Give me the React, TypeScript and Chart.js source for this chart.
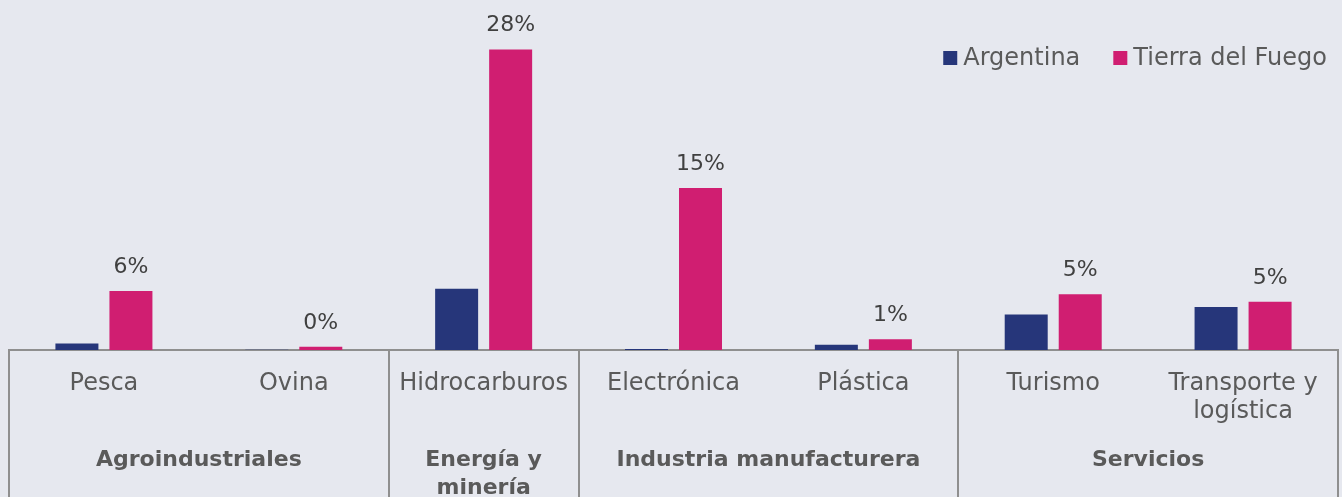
import { useEffect, useRef } from "react";
import { Chart, registerables } from "chart.js";

Chart.register(...registerables);

const categories: (string | string[])[] = [
  "Pesca",
  "Ovina",
  "Hidrocarburos",
  "Electrónica",
  "Plástica",
  "Turismo",
  ["Transporte y", "logística"],
];
const argentina = [0.6, 0.02, 5.7, 0.1, 0.5, 3.3, 4.0];
const tierraDelFuego = [5.5, 0.3, 28.0, 15.1, 1.0, 5.2, 4.5];
const groupLabels = [["Agroindustriales"], ["Energía y", "minería"], ["Industria manufacturera"], ["Servicios"]];
const groupSizes = [2, 1, 2, 2];
const seriesNames = ["Argentina", "Tierra del Fuego"];
const seriesColors = ["#26367a", "#d01e71"];

const FONT = "'DejaVu Sans', sans-serif";
const TEXT = "#5a5a5a";
const LINE = "#8f8f8f";

const framePlugin = {
  id: "frame",
  afterDraw(chart: any) {
    const ctx = chart.ctx;
    const xs = chart.scales.x;
    const top = chart.chartArea.bottom;
    const bottom = chart.height;
    const n = categories.length;
    const bound = (k: number) => {
      if (k <= 0) return xs.left;
      if (k >= n) return xs.right;
      return (xs.getPixelForValue(k - 1) + xs.getPixelForValue(k)) / 2;
    };
    ctx.save();
    ctx.strokeStyle = LINE;
    ctx.lineWidth = 2;
    let k = 0;
    const bounds = [bound(0)];
    groupSizes.forEach((s) => {
      k += s;
      bounds.push(bound(k));
    });
    bounds.forEach((bx) => {
      ctx.beginPath();
      ctx.moveTo(Math.round(bx), top);
      ctx.lineTo(Math.round(bx), bottom);
      ctx.stroke();
    });
    ctx.fillStyle = TEXT;
    ctx.font = `bold 22px ${FONT}`;
    ctx.textAlign = "center";
    ctx.textBaseline = "alphabetic";
    groupLabels.forEach((lines, i) => {
      const cx = (bounds[i] + bounds[i + 1]) / 2;
      lines.forEach((ln, j) => ctx.fillText(ln, cx, 466 + j * 28));
    });

    // legend (top right)
    ctx.font = `24px ${FONT}`;
    ctx.textAlign = "left";
    const box = 14;
    const gapText = 6;
    const gapItem = 33;
    const widths = seriesNames.map((s) => ctx.measureText(s).width);
    const total = widths.reduce((a, w) => a + box + gapText + w, 0) + gapItem * (seriesNames.length - 1);
    let x = chart.width - 15 - total;
    const baseY = 65;
    seriesNames.forEach((s, i) => {
      ctx.fillStyle = seriesColors[i];
      ctx.fillRect(x, baseY - box, box, box);
      ctx.fillStyle = TEXT;
      ctx.fillText(s, x + box + gapText, baseY);
      x += box + gapText + widths[i] + gapItem;
    });
    ctx.restore();
  },
};

const labelPlugin = {
  id: "barLabels",
  afterDatasetsDraw(chart: any) {
    const ctx = chart.ctx;
    const meta = chart.getDatasetMeta(1);
    ctx.save();
    ctx.fillStyle = "#404040";
    ctx.font = `22px ${FONT}`;
    ctx.textAlign = "center";
    ctx.textBaseline = "alphabetic";
    meta.data.forEach((el: any, i: number) => {
      ctx.fillText(Math.round(tierraDelFuego[i]) + "%", el.x, el.y - 18);
    });
    ctx.restore();
  },
};

export default function App() {
  const ref = useRef<HTMLCanvasElement>(null);
  useEffect(() => {
    document.body.style.margin = "0";
    document.body.style.background = "#e6e8ef";
    const chart = new Chart(ref.current!, {
      type: "bar",
      data: {
        labels: categories,
        datasets: seriesNames.map((name, i) => ({
          label: name,
          data: i === 0 ? argentina : tierraDelFuego,
          backgroundColor: seriesColors[i],
          categoryPercentage: 0.569,
          barPercentage: 0.796,
        })),
      },
      options: {
        animation: false,
        responsive: true,
        maintainAspectRatio: false,
        layout: { padding: { left: 9, right: 4, top: 14, bottom: 0 } },
        plugins: {
          legend: { display: false },
          tooltip: { enabled: false },
        },
        scales: {
          x: {
            grid: { display: false, drawTicks: false },
            border: { display: true, color: LINE, width: 2 },
            ticks: {
              color: TEXT,
              font: { family: FONT, size: 24, lineHeight: 1.167 },
              padding: 20,
              maxRotation: 0,
              autoSkip: false,
            },
            afterFit(scale: any) {
              scale.height = 147;
            },
          },
          y: {
            display: false,
            min: 0,
            max: 31.3,
          },
        },
      },
      plugins: [framePlugin, labelPlugin],
    });
    return () => chart.destroy();
  }, []);
  return (
    <div style={{ width: 1342, height: 497, background: "#e6e8ef", position: "relative" }}>
      <canvas ref={ref} />
    </div>
  );
}
